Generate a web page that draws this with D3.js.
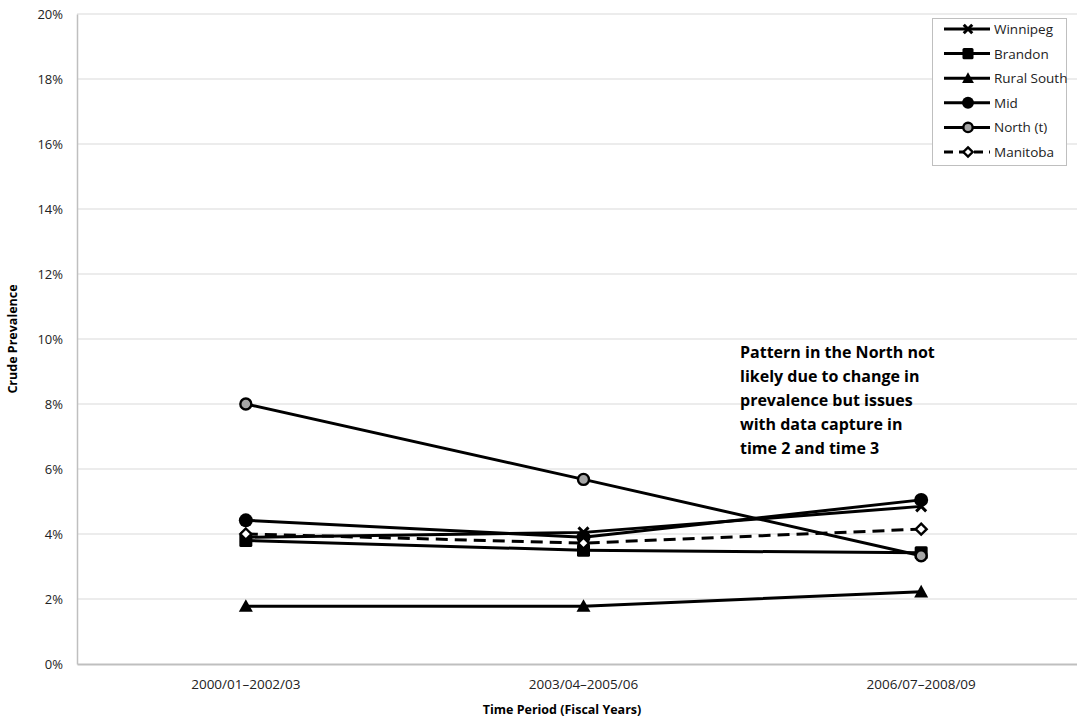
<!DOCTYPE html>
<html><head><meta charset="utf-8">
<script src="https://cdn.jsdelivr.net/npm/d3@7"></script>
<style>body{margin:0;background:#fff;overflow:hidden}svg{display:block;font-family:"Open Sans","Noto Sans",sans-serif}</style>
</head><body>
<script>
const categories = ["2000/01\u20132002/03","2003/04\u20132005/06","2006/07\u20132008/09"];
const winnipeg = [3.9, 4.05, 4.85];
const brandon = [3.8, 3.5, 3.42];
const ruralSouth = [1.78, 1.78, 2.22];
const mid = [4.42, 3.9, 5.05];
const north = [8.0, 5.68, 3.33];
const manitoba = [4.0, 3.72, 4.15];
const seriesNames = ["Winnipeg","Brandon","Rural South","Mid","North (t)","Manitoba"];
const yTicks = [0,2,4,6,8,10,12,14,16,18,20];
const annotation = ["Pattern in the North not","likely due to change in","prevalence but issues","with data capture in","time 2 and time 3"];

const W=1077,H=719;
const svg=d3.select("body").append("svg").attr("width",W).attr("height",H);
const x=d3.scaleBand().domain(categories).range([77,1090]);
const y=d3.scaleLinear().domain([0,20]).range([664,14]);
const cx=c=>x(c)+x.bandwidth()/2;

// gridlines
svg.append("g").selectAll("line").data(yTicks.filter(d=>d>0)).join("line")
  .attr("x1",77).attr("x2",1090).attr("y1",d=>y(d)).attr("y2",d=>y(d))
  .attr("stroke","#d9d9d9").attr("stroke-width",1);
// y axis
const ya=svg.append("g").attr("transform","translate(77,0)").call(d3.axisLeft(y).tickValues(yTicks).tickFormat(d=>d+"%").tickSize(0).tickPadding(14));
ya.select(".domain").attr("stroke","#bfbfbf").attr("stroke-width",1.5);
ya.selectAll("text").attr("font-size",13).attr("fill","#222").attr("font-family","Open Sans, Noto Sans, sans-serif");
// x axis
const xa=svg.append("g").attr("transform","translate(0,664)").call(d3.axisBottom(x).tickSize(0).tickPadding(15));
xa.select(".domain").attr("stroke","#bfbfbf").attr("stroke-width",2);
xa.selectAll("text").attr("font-size",13.5).attr("fill","#222").attr("font-family","Open Sans, Noto Sans, sans-serif");

// titles
svg.append("text").attr("x",562).attr("y",714).attr("text-anchor","middle").attr("font-size",12.5).attr("font-weight","bold").text("Time Period (Fiscal Years)");
svg.append("text").attr("transform","translate(17,339) rotate(-90)").attr("text-anchor","middle").attr("font-size",12.5).attr("font-weight","bold").text("Crude Prevalence");

const data=[winnipeg,brandon,ruralSouth,mid,north,manitoba];
const line=d3.line().x((d,i)=>cx(categories[i])).y(d=>y(d));

function marker(g,k,px,py,legend){
  const s=legend?0.85:1;
  if(k===0){
    const a=5*s;
    g.append("path").attr("d",`M${px-a},${py-a}L${px+a},${py+a}M${px-a},${py+a}L${px+a},${py-a}`).attr("stroke","#000").attr("stroke-width",3);
  } else if(k===1){
    const a=6.5*s;
    g.append("rect").attr("x",px-a).attr("y",py-a).attr("width",2*a).attr("height",2*a).attr("rx",1.5).attr("fill","#000");
  } else if(k===2){
    const a=7*s;
    g.append("path").attr("d",`M${px},${py-a}L${px+a},${py+a*0.8}L${px-a},${py+a*0.8}Z`).attr("fill","#000");
  } else if(k===3){
    g.append("circle").attr("cx",px).attr("cy",py).attr("r",7*s).attr("fill","#000");
  } else if(k===4){
    g.append("circle").attr("cx",px).attr("cy",py).attr("r",5.5*s).attr("fill","#a6a6a6").attr("stroke","#000").attr("stroke-width",2.4);
  } else {
    const a=5.5*s;
    g.append("path").attr("d",`M${px},${py-a}L${px+a},${py}L${px},${py+a}L${px-a},${py}Z`).attr("fill","#fff").attr("stroke","#000").attr("stroke-width",2.4);
  }
}

data.forEach((vals,k)=>{
  const g=svg.append("g");
  g.append("path").attr("d",line(vals)).attr("fill","none").attr("stroke","#000").attr("stroke-width",3)
   .attr("stroke-dasharray",k===5?"12,7":null);
  vals.forEach((v,i)=>marker(g,k,cx(categories[i]),y(v),false));
});

// annotation
const at=svg.append("text").attr("x",740).attr("y",358).attr("font-size",16).attr("font-weight","bold").attr("fill","#000");
annotation.forEach((t,i)=>at.append("tspan").attr("x",740).attr("dy",i?24:0).text(t));

// legend
const lg=svg.append("g");
lg.append("rect").attr("x",932.5).attr("y",18.5).attr("width",134).attr("height",147).attr("fill","#fff").attr("stroke","#bfbfbf");
seriesNames.forEach((n,k)=>{
  const ly=29+k*24.6;
  lg.append("line").attr("x1",944).attr("x2",990).attr("y1",ly).attr("y2",ly).attr("stroke","#000").attr("stroke-width",3)
    .attr("stroke-dasharray",k===5?"9,6":null);
  marker(lg,k,968,ly,true);
  lg.append("text").attr("x",994).attr("y",ly+5).attr("font-size",13.5).attr("fill","#222").text(n);
});
</script>
</body></html>
